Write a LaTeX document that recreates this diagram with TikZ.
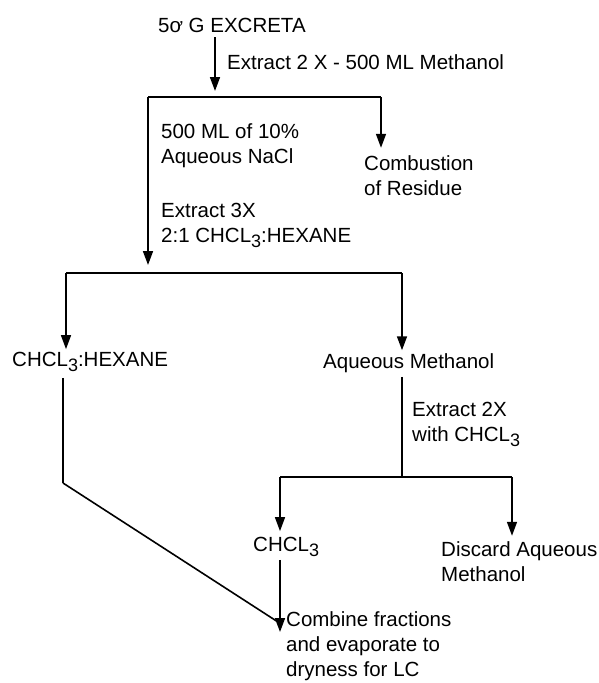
\documentclass[tikz,border=0pt]{standalone}
\usepackage{fontspec}
\setmainfont{Liberation Sans}
\usetikzlibrary{positioning,calc,arrows.meta}
\newcommand{\chsub}[1]{\raisebox{-0.45ex}{\fontsize{18}{18}\selectfont #1}}

\begin{document}
\begin{tikzpicture}[x=1pt,y=-1pt,
    lbl/.style={anchor=west,inner sep=0pt,align=left,font=\fontsize{20.5}{25}\selectfont},
    flow/.style={line width=1.6pt},
    down/.style={flow,-{Triangle[length=14pt,width=10pt]}}]
                    \useasboundingbox (0,0) rectangle (598,683);

                    \coordinate (B1l) at (148,97);
                    \coordinate (B1m) at (215,97);
                    \coordinate (B1r) at (381,97);
                    \coordinate (B2l) at (66,273);
                    \coordinate (B2r) at (402,273);
                    \coordinate (B3l) at (280,477);
                    \coordinate (B3r) at (512,477);
                    \coordinate (K) at (63,483);
                    \coordinate (J) at (280,632);
                    \coordinate (Jb) at (278,622);

                    \node[lbl] (excreta) at (158,25) {5ơ G EXCRETA};
                    \node[lbl] (meoh) at (227,62) {Extract 2 X - 500 ML Methanol};
                    \node[lbl] (nacl) at (161,146) {500 ML of 10\%\\Aqueous NaCl};
                    \node[lbl] (resid) at (364,176) {Combustion\\of Residue};
                    \node[lbl] (ext3) at (161,225) {Extract 3X\\2:1 CHCL\chsub{3}:HEXANE};
                    \node[lbl] (hex) at (12,362) {CHCL\chsub{3}:HEXANE};
                    \node[lbl] (aqm) at (323,363) {Aqueous Methanol};
                    \node[lbl] (ext2) at (412,424) {Extract 2X\\with CHCL\chsub{3}};
                    \node[lbl] (chl) at (253,547) {CHCL\chsub{3}};
                    \node[lbl] (disc) at (441,562) {Discard Aqueous\\Methanol};
                    \node[lbl] (comb) at (286,646) {Combine fractions\\and evaporate to\\dryness for LC};

                    \draw[down,shorten <=5pt,shorten >=6pt] (excreta.south -| B1m) -- (B1m);
                    \draw[flow] (B1l) -- (B1r);
                    \draw[down,shorten >=8pt] (B1r) -- (resid.north -| B1r);
                    \draw[down,shorten >=8pt] (B1l) -- (B2l -| B1l);
                    \draw[flow] (B2l) -- (B2r);
                    \draw[down,shorten >=3pt] (B2l) -- (hex.north -| B2l);
                    \draw[down,shorten >=3pt] (B2r) -- (aqm.north -| B2r);
                    \draw[flow,shorten <=4pt] (aqm.south -| B2r) -- (B2r |- B3l);
                    \draw[flow] (B3l) -- (B3r);
                    \draw[down,shorten >=6pt] (B3l) -- (chl.north -| B3l);
                    \draw[down,shorten >=6pt] (B3r) -- (disc.north -| B3r);
                    \draw[flow,shorten <=6pt] (hex.south -| K) -- (K);
                    \draw[flow] (K) -- (Jb);
                    \draw[down,shorten <=3pt] (chl.south -| J) -- (J);
                \end{tikzpicture}
\end{document}
